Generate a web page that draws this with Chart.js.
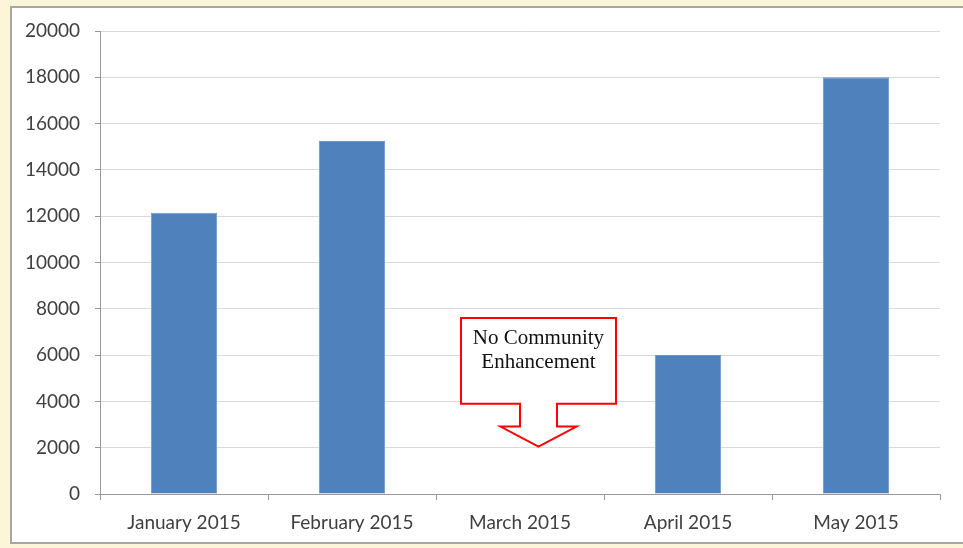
<!DOCTYPE html>
<html>
<head>
<meta charset="utf-8">
<script src="https://cdn.jsdelivr.net/npm/chart.js@4"></script>
<style>
  html, body { margin: 0; padding: 0; }
  body { width: 963px; height: 548px; background: #fdf5da; position: relative; overflow: hidden; }
  #panel { position: absolute; left: 10px; top: 6px; width: 970px; height: 538px; background: #ffffff; border: 2px solid #a6a6a6; box-sizing: border-box; }
  #c { position: absolute; left: 0; top: 0; }
</style>
</head>
<body>
<div id="panel"></div>
<canvas id="c" width="963" height="548"></canvas>
<script>
const categories = ["January 2015", "February 2015", "March 2015", "April 2015", "May 2015"];
const values = [12150, 15250, 0, 6000, 18000];
const yTicks = [0, 2000, 4000, 6000, 8000, 10000, 12000, 14000, 16000, 18000, 20000];
const calloutLines = ["No Community", "Enhancement"];
const calloutCategory = 2;
const calloutTopValue = 7600;
const calloutBottomValue = 3900;
const calloutTipValue = 2050;

const calloutPlugin = {
  id: 'callout',
  afterDatasetsDraw(chart) {
    const ctx = chart.ctx;
    const xs = chart.scales.x, ys = chart.scales.y;
    const catW = (chart.chartArea.right - chart.chartArea.left) / categories.length;
    const cx = xs.getPixelForValue(calloutCategory) + catW * 0.11;
    const top = ys.getPixelForValue(calloutTopValue);
    const bot = ys.getPixelForValue(calloutBottomValue);
    const tip = ys.getPixelForValue(calloutTipValue);
    const bw = 155, sw = 37, hw = 76, headH = 20;
    const shaftBottom = tip - headH;
    ctx.save();
    ctx.beginPath();
    ctx.moveTo(cx - bw / 2, top);
    ctx.lineTo(cx + bw / 2, top);
    ctx.lineTo(cx + bw / 2, bot);
    ctx.lineTo(cx + sw / 2, bot);
    ctx.lineTo(cx + sw / 2, shaftBottom);
    ctx.lineTo(cx + hw / 2, shaftBottom);
    ctx.lineTo(cx, tip);
    ctx.lineTo(cx - hw / 2, shaftBottom);
    ctx.lineTo(cx - sw / 2, shaftBottom);
    ctx.lineTo(cx - sw / 2, bot);
    ctx.lineTo(cx - bw / 2, bot);
    ctx.closePath();
    ctx.fillStyle = '#ffffff';
    ctx.fill();
    ctx.strokeStyle = '#ff0000';
    ctx.lineWidth = 2;
    ctx.stroke();
    ctx.fillStyle = '#111111';
    ctx.font = '21px "Liberation Serif", "Times New Roman", serif';
    ctx.textAlign = 'center';
    ctx.textBaseline = 'middle';
    calloutLines.forEach((t, i) => ctx.fillText(t, cx, top + 20 + i * 24));
    ctx.restore();
  }
};

new Chart(document.getElementById('c'), {
  type: 'bar',
  data: {
    labels: categories,
    datasets: [{
      data: values,
      backgroundColor: '#4f81bd',
      borderColor: '#6b95c8',
      borderWidth: 1,
      categoryPercentage: 1,
      barPercentage: 0.395
    }]
  },
  options: {
    responsive: false,
    animation: false,
    devicePixelRatio: 1,
    layout: { padding: { top: 31, right: 23, left: 0, bottom: 0 } },
    plugins: { legend: { display: false }, tooltip: { enabled: false } },
    scales: {
      x: {
        offset: true,
        afterFit(s) { s.height = 54; },
        grid: { drawOnChartArea: false, drawTicks: true, tickLength: 6, color: '#999999', offset: true },
        border: { color: '#999999', width: 1 },
        ticks: { color: '#404040', font: { family: 'Lato, "Open Sans", sans-serif', size: 19 }, padding: 11, maxRotation: 0 }
      },
      y: {
        min: 0, max: 20000,
        afterFit(s) { s.width = 100; },
        afterBuildTicks(s) { s.ticks = yTicks.map(v => ({ value: v })); },
        grid: { color: '#d9d9d9', tickColor: '#999999', tickLength: 5, lineWidth: 1 },
        border: { color: '#999999', width: 1 },
        ticks: { color: '#404040', font: { family: 'Lato, "Open Sans", sans-serif', size: 19 }, padding: 15, callback: v => String(v) }
      }
    }
  },
  plugins: [calloutPlugin]
});
</script>
</body>
</html>
